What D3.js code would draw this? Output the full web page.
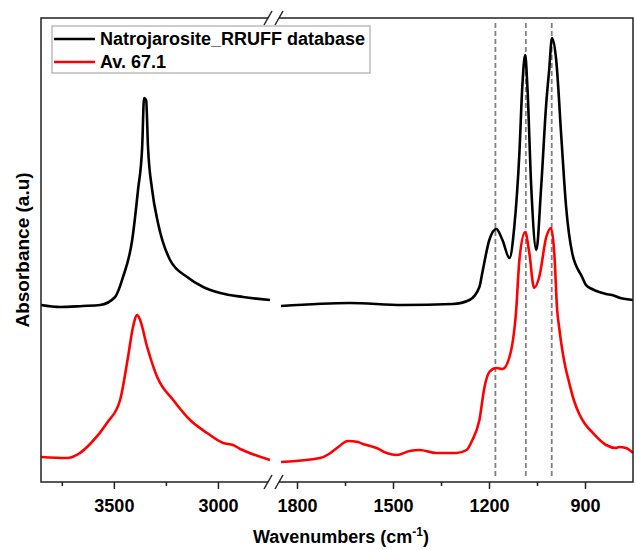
<!DOCTYPE html>
<html>
<head>
<meta charset="utf-8">
<script src="https://cdn.jsdelivr.net/npm/d3@7"></script>
<style>
  body { margin: 0; background: #fff; }
  svg text { font-family: "Liberation Sans", Arial, sans-serif; font-weight: bold; }
</style>
</head>
<body>
<div id="chart"></div>
<script>
// [wavenumber (cm-1), absorbance (a.u, offset)]
const natroHigh = [
  [3850, 1.77], [3759, 1.75], [3650, 1.76], [3566, 1.77], [3494, 1.85], [3456, 2.05],
  [3412, 2.42], [3384, 2.92], [3364, 3.35], [3355, 3.84], [3345, 3.82], [3336, 3.35],
  [3316, 2.92], [3288, 2.59], [3230, 2.22], [3148, 2.05], [3071, 1.95], [2989, 1.89],
  [2879, 1.85], [2750, 1.82]
];
const natroLow = [
  [1850, 1.76], [1635, 1.79], [1470, 1.77], [1314, 1.78], [1261, 1.82], [1230, 1.95],
  [1221, 2.09], [1199, 2.42], [1177, 2.53], [1158, 2.42], [1136, 2.24], [1121, 2.55],
  [1105, 3.29], [1096, 3.95], [1087, 4.27], [1080, 3.95], [1068, 2.95], [1052, 2.32],
  [1037, 2.95], [1021, 3.79], [1012, 4.12], [1003, 4.44], [990, 4.22], [974, 3.45],
  [959, 2.75], [940, 2.29], [909, 2.05], [897, 1.97], [878, 1.93], [856, 1.90],
  [834, 1.88], [816, 1.87], [790, 1.84], [750, 1.82]
];
const avHigh = [
  [3850, 0.25], [3725, 0.24], [3663, 0.29], [3614, 0.38], [3533, 0.59], [3470, 0.82],
  [3432, 1.25], [3408, 1.55], [3388, 1.67], [3374, 1.62], [3340, 1.35], [3292, 1.05],
  [3215, 0.82], [3134, 0.62], [3052, 0.49], [2975, 0.39], [2927, 0.37], [2893, 0.33],
  [2860, 0.30], [2750, 0.22]
];
const avLow = [
  [1850, 0.20], [1728, 0.24], [1700, 0.28], [1675, 0.34], [1641, 0.41], [1610, 0.40],
  [1594, 0.38], [1551, 0.34], [1520, 0.29], [1488, 0.27], [1448, 0.31], [1417, 0.32],
  [1364, 0.29], [1302, 0.29], [1270, 0.32], [1252, 0.42], [1230, 0.62], [1214, 0.95],
  [1199, 1.10], [1177, 1.14], [1158, 1.13], [1136, 1.25], [1115, 1.72], [1105, 2.22],
  [1087, 2.50], [1074, 2.29], [1059, 1.94], [1043, 2.05], [1021, 2.45], [1006, 2.54],
  [996, 2.29], [987, 1.72], [981, 1.55], [970, 1.30], [960, 1.13], [950, 1.00],
  [935, 0.82], [918, 0.68], [900, 0.58], [878, 0.50], [834, 0.37], [803, 0.34],
  [794, 0.35], [772, 0.34], [750, 0.29]
];
const refLines = [1180, 1085, 1004];
const highMajor = [3500, 3000], highMinor = [3750, 3250];
const lowMajor = [1800, 1500, 1200, 900], lowMinor = [1650, 1350, 1050];
const seriesNames = ["Natrojarosite_RRUFF database", "Av. 67.1"];
const seriesColors = ["#000000", "#ff0000"];

const width = 636, height = 550;
const pLeft = 41, pRight = 633, pTop = 18, pBottom = 482;
const breakL = 268, breakR = 279;

const svg = d3.select("#chart").append("svg")
  .attr("width", width).attr("height", height);

const xHigh = d3.scaleLinear().domain([3850, 2750]).range([pLeft, 270]);
const xLow = d3.scaleLinear().domain([1850, 750]).range([281, pRight]);
const y = d3.scaleLinear().domain([0, 4.64]).range([pBottom, pTop]);

// reference dashed lines
svg.selectAll(".ref").data(refLines).join("line")
  .attr("x1", d => xLow(d)).attr("x2", d => xLow(d))
  .attr("y1", pTop + 5).attr("y2", pBottom - 5)
  .attr("stroke", "#808080").attr("stroke-width", 1.8)
  .attr("stroke-dasharray", "5,3");

// spectra
function drawLine(data, xs, color) {
  const line = d3.line()
    .x(d => xs(d[0])).y(d => y(d[1]))
    .curve(d3.curveMonotoneX);
  svg.append("path").datum(data)
    .attr("d", line).attr("fill", "none")
    .attr("stroke", color).attr("stroke-width", 2.6)
    .attr("stroke-linejoin", "round");
}
drawLine(natroHigh, xHigh, seriesColors[0]);
drawLine(natroLow, xLow, seriesColors[0]);
drawLine(avHigh, xHigh, seriesColors[1]);
drawLine(avLow, xLow, seriesColors[1]);

// frame with break
const frame = svg.append("g").attr("stroke", "#222").attr("stroke-width", 1.5).attr("fill", "none");
frame.append("path").attr("d", `M${breakL},${pTop}H${pLeft}V${pBottom}H${breakL}`);
frame.append("path").attr("d", `M${breakR},${pTop}H${pRight}V${pBottom}H${breakR}`);
[pTop, pBottom].forEach(yy => {
  [breakL, breakR].forEach(bx => {
    frame.append("line")
      .attr("x1", bx - 4).attr("y1", yy + 7)
      .attr("x2", bx + 4).attr("y2", yy - 7);
  });
});

// axes
function drawAxis(xs, major, minor) {
  const gMaj = svg.append("g").attr("transform", `translate(0,${pBottom})`)
    .call(d3.axisBottom(xs).tickValues(major).tickSize(7).tickPadding(10).tickFormat(d3.format("d")));
  gMaj.select(".domain").remove();
  gMaj.selectAll("line").attr("stroke", "#222").attr("stroke-width", 1.5);
  gMaj.selectAll("text").attr("font-size", 18).attr("fill", "#000")
    .style("font-family", "'Liberation Sans', Arial, sans-serif").style("font-weight", "bold");
  const gMin = svg.append("g").attr("transform", `translate(0,${pBottom})`)
    .call(d3.axisBottom(xs).tickValues(minor).tickSize(4).tickFormat(""));
  gMin.select(".domain").remove();
  gMin.selectAll("line").attr("stroke", "#222").attr("stroke-width", 1.5);
}
drawAxis(xHigh, highMajor, highMinor);
drawAxis(xLow, lowMajor, lowMinor);

// axis titles
const xt = svg.append("text").attr("x", (pLeft + pRight) / 2 + 4).attr("y", 543)
  .attr("text-anchor", "middle").attr("font-size", 18);
xt.append("tspan").text("Wavenumbers (cm");
xt.append("tspan").attr("font-size", 12).attr("dy", -7).text("-1");
xt.append("tspan").attr("dy", 7).text(")");

svg.append("text").attr("transform", `translate(29,${(pTop + pBottom) / 2}) rotate(-90)`)
  .attr("text-anchor", "middle").attr("font-size", 19).text("Absorbance (a.u)");

// legend
const lg = svg.append("g");
lg.append("rect").attr("x", 52).attr("y", 26).attr("width", 318).attr("height", 47)
  .attr("fill", "#fff").attr("stroke", "#999").attr("stroke-width", 1);
seriesNames.forEach((name, i) => {
  const yy = 39 + i * 23;
  lg.append("line").attr("x1", 54).attr("x2", 95).attr("y1", yy).attr("y2", yy)
    .attr("stroke", seriesColors[i]).attr("stroke-width", 2.6);
  lg.append("text").attr("x", 100).attr("y", yy + 6).attr("font-size", 18).text(name);
});
</script>
</body>
</html>
